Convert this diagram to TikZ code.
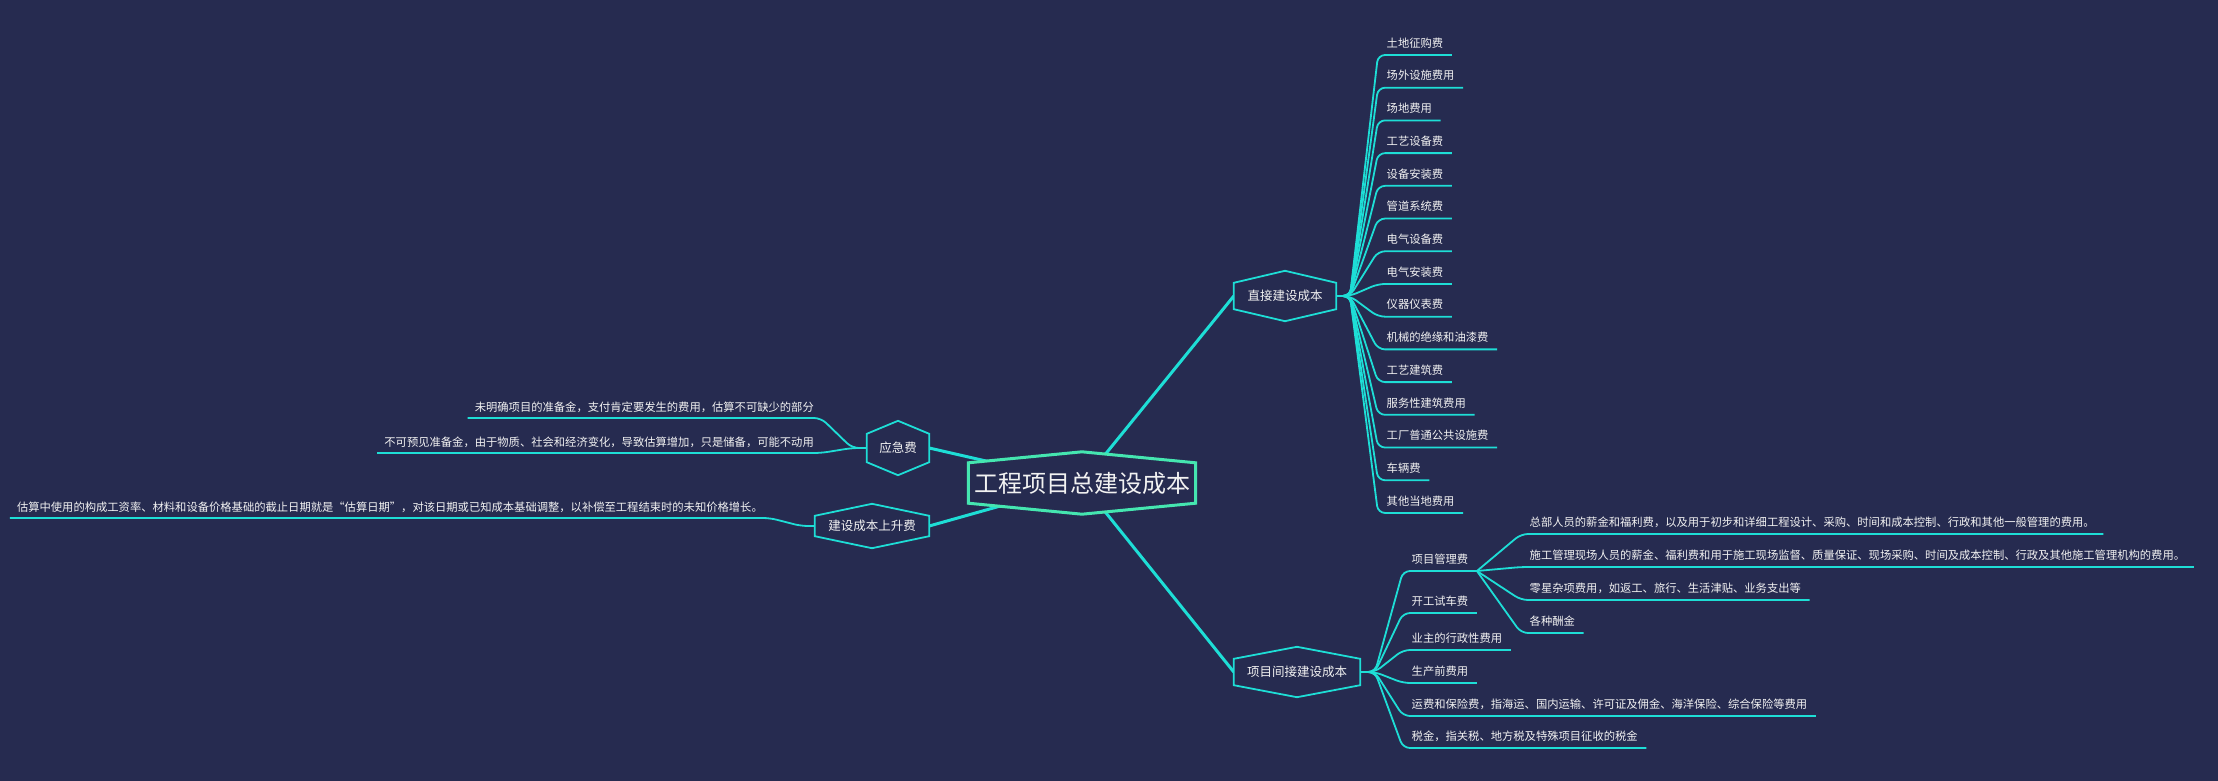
\documentclass[tikz,border=0pt]{standalone}
\usepackage{fontspec}
\setmainfont{Noto Sans CJK SC}
\usetikzlibrary{calc}
\definecolor{bg}{HTML}{262B50}
\definecolor{ln}{HTML}{1EDED6}
\definecolor{cb}{HTML}{45E6B0}
\definecolor{tx}{HTML}{F2F2F2}
\tikzset{
 leafR/.style={anchor=west,inner xsep=8.5pt,inner ysep=0pt,text=tx,font=\fontsize{11.3}{12}\selectfont},
 leafL/.style={anchor=east,inner xsep=7pt,inner ysep=0pt,text=tx,font=\fontsize{11.3}{12}\selectfont},
 conn/.style={draw=ln,line width=1.8pt,rounded corners=7pt},
 mainconn/.style={draw=ln,line width=3pt},
 hexnode/.style={inner sep=0pt,text=tx,font=\fontsize{12.5}{14}\selectfont},
 hexline/.style={draw=ln,fill=bg,line width=1.8pt},
}
\newcommand{\hexdraw}[3]{\draw[#3] (#1.south west) -- (#1.north west) -- ([yshift=#2]#1.north) -- (#1.north east) -- (#1.south east) -- ([yshift=-#2]#1.south) -- cycle;}
\begin{document}
\begin{tikzpicture}[x=1pt,y=-1pt]
\fill[bg] (0,0) rectangle (2218,781);
\useasboundingbox (0,0) rectangle (2218,781);
% hex nodes
\node[hexnode,minimum width=227pt,minimum height=40pt,font=\fontsize{24}{26}\selectfont] (c) at (1082,483) {工程项目总建设成本};
\node[hexnode,minimum width=102pt,minimum height=26pt] (d) at (1285,296) {直接建设成本};
\node[hexnode,minimum width=126pt,minimum height=26pt] (i) at (1297,672) {项目间接建设成本};
\node[hexnode,minimum width=62pt,minimum height=28pt] (y) at (898,448) {应急费};
\node[hexnode,minimum width=114pt,minimum height=20pt] (s) at (872,526) {建设成本上升费};
% main connectors
\draw[mainconn] (c.center) -- (d.west);
\draw[mainconn] (c.center) -- (i.west);
\draw[mainconn] (c.center) -- (y.east);
\draw[mainconn] (c.center) -- (s.east);
% hex outlines
\hexdraw{c}{11pt}{draw=cb,fill=bg,line width=3pt}
\node[hexnode,font=\fontsize{24}{26}\selectfont] at (c) {工程项目总建设成本};
\hexdraw{d}{12pt}{hexline}
\node[hexnode] at (d) {直接建设成本};
\hexdraw{i}{12pt}{hexline}
\node[hexnode] at (i) {项目间接建设成本};
\hexdraw{y}{13pt}{hexline}
\node[hexnode] at (y) {应急费};
\hexdraw{s}{12pt}{hexline}
\node[hexnode] at (s) {建设成本上升费};
% direct leaves
\coordinate (bd) at (1350,296);
\foreach \t [count=\k from 0] in {土地征购费,场外设施费用,场地费用,工艺设备费,设备安装费,管道系统费,电气设备费,电气安装费,仪器仪表费,机械的绝缘和油漆费,工艺建筑费,服务性建筑费用,工厂普通公共设施费,车辆费,其他当地费用}{
 \node[leafR] (d\k) at (1378,{55+32.71*\k-12}) {\t};
 \draw[conn] (d.east) -- (bd) -- ([yshift=-12pt]d\k.west) -- ([yshift=-12pt]d\k.east);
}
% indirect leaves
\coordinate (bi) at (1375,672);
\node[leafR] (i0) at (1403,559) {项目管理费};
\node[leafR] (i1) at (1403,601) {开工试车费};
\node[leafR] (i2) at (1403,638) {业主的行政性费用};
\node[leafR] (i3) at (1403,671) {生产前费用};
\node[leafR] (i4) at (1403,704) {运费和保险费，指海运、国内运输、许可证及佣金、海洋保险、综合保险等费用};
\node[leafR] (i5) at (1403,736) {税金，指关税、地方税及特殊项目征收的税金};
\foreach \k in {0,...,5}{
 \draw[conn] (i.east) -- (bi) -- ([yshift=-12pt]i\k.west) -- ([yshift=-12pt]i\k.east);
}
\coordinate (bp) at ([yshift=-12pt]i0.east);
\node[leafR] (p0) at (1521,522) {总部人员的薪金和福利费，以及用于初步和详细工程设计、采购、时间和成本控制、行政和其他一般管理的费用。};
\node[leafR] (p1) at (1521,555) {施工管理现场人员的薪金、福利费和用于施工现场监督、质量保证、现场采购、时间及成本控制、行政及其他施工管理机构的费用。};
\node[leafR] (p2) at (1521,588) {零星杂项费用，如返工、旅行、生活津贴、业务支出等};
\node[leafR] (p3) at (1521,621) {各种酬金};
\foreach \k in {0,...,3}{
 \draw[conn] (bp) -- ([yshift=-12pt]p\k.west) -- ([yshift=-12pt]p\k.east);
}
% left leaves
\coordinate (by) at (852,448);
\node[leafL] (y0) at (821,407) {未明确项目的准备金，支付肯定要发生的费用，估算不可缺少的部分};
\node[leafL] (y1) at (821,442) {不可预见准备金，由于物质、社会和经济变化，导致估算增加，只是储备，可能不动用};
\foreach \k in {0,1}{
 \draw[conn] (y.west) -- (by) -- ([yshift=-11pt]y\k.east) -- ([yshift=-11pt]y\k.west);
}
\coordinate (bs) at (801,526);
\node[leafL] (s0) at (770,507) {估算中使用的构成工资率、材料和设备价格基础的截止日期就是“估算日期”，对该日期或已知成本基础调整，以补偿至工程结束时的未知价格增长。};
\draw[conn] (s.west) -- (bs) -- ([yshift=-11pt]s0.east) -- ([yshift=-11pt]s0.west);
\end{tikzpicture}
\end{document}
